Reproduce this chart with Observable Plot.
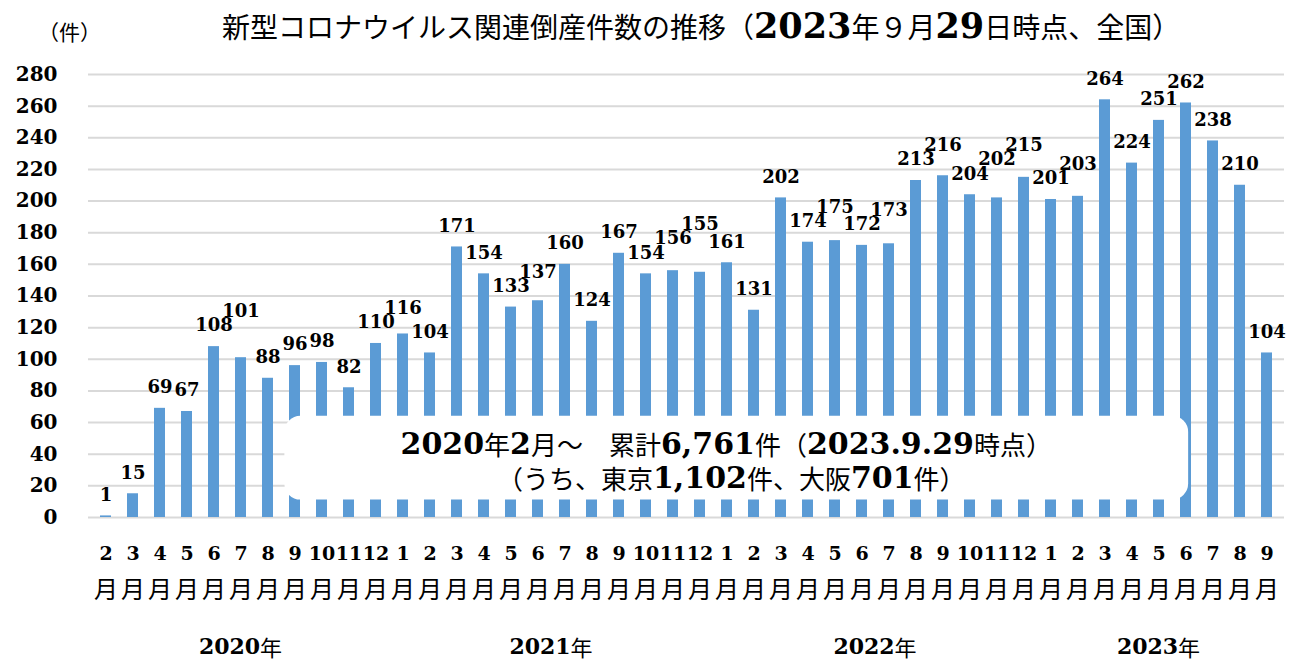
<!DOCTYPE html>
<html><head><meta charset="utf-8">
<script src="https://cdn.jsdelivr.net/npm/d3@7"></script>
<script src="https://cdn.jsdelivr.net/npm/@observablehq/plot@0.6"></script>
<style>
body{margin:0;background:#fff;width:1290px;height:663px;overflow:hidden;position:relative;font-family:"Noto Sans CJK JP",sans-serif;color:#000;}
#title{position:absolute;left:222px;top:5px;font-size:28px;line-height:42px;white-space:nowrap;}
#title .num{font-size:35px;}
#unit{position:absolute;left:38px;top:16px;font-size:21px;line-height:30px;white-space:nowrap;}
.num{font-family:"DejaVu Serif",serif;font-weight:bold;}
#chart{position:absolute;left:0;top:50px;}
</style></head><body>
<div id="unit">（件）</div>
<div id="title"></div>
<div id="chart"></div>
<script>
// ---- data ----
const years = [2020, 2021, 2022, 2023];
const months2020 = [2, 3, 4, 5, 6, 7, 8, 9, 10, 11, 12];
const months2021 = [1, 2, 3, 4, 5, 6, 7, 8, 9, 10, 11, 12];
const months2022 = [1, 2, 3, 4, 5, 6, 7, 8, 9, 10, 11, 12];
const months2023 = [1, 2, 3, 4, 5, 6, 7, 8, 9];
const counts2020 = [1, 15, 69, 67, 108, 101, 88, 96, 98, 82, 110];
const counts2021 = [116, 104, 171, 154, 133, 137, 160, 124, 167, 154, 156, 155];
const counts2022 = [161, 131, 202, 174, 175, 172, 173, 213, 216, 204, 202, 215];
const counts2023 = [201, 203, 264, 224, 251, 262, 238, 210, 104];
const yTicks = [0, 20, 40, 60, 80, 100, 120, 140, 160, 180, 200, 220, 240, 260, 280];
const monthSuffix = "月";
const yearSuffix = "年";
const titleText = "新型コロナウイルス関連倒産件数の推移（2023年９月29日時点、全国）";
const boxLine1 = "2020年2月～　累計6,761件（2023.9.29時点）";
const boxLine2 = "（うち、東京1,102件、大阪701件）";

// ---- build table ----
const monthsList = [months2020, months2021, months2022, months2023];
const countsList = [counts2020, counts2021, counts2022, counts2023];
const data = [];
years.forEach((yr, i) => monthsList[i].forEach((m, j) => data.push({
  key: `${yr}-${String(m).padStart(2, "0")}`, year: yr, month: m, value: countsList[i][j]
})));

// stagger value labels so neighbouring labels do not collide (computed, in value units)
const minGap = 9;
data.forEach((d, i) => {
  d.labelY = d.value;
  if (i > 0) {
    const p = data[i - 1];
    const wide = String(d.value).length + String(p.value).length >= 6;
    if (wide && Math.abs(d.labelY - p.labelY) < minGap) d.labelY = p.labelY + minGap;
  }
});

const SERIF = "DejaVu Serif";
const SANS = "Noto Sans CJK JP";

function runs(str) {
  const out = []; const re = /[0-9][0-9,.]*/g; let last = 0, m;
  while ((m = re.exec(str))) {
    if (m.index > last) out.push({t: str.slice(last, m.index), num: false});
    out.push({t: m[0], num: true}); last = m.index + m[0].length;
  }
  if (last < str.length) out.push({t: str.slice(last), num: false});
  return out;
}

document.getElementById("title").innerHTML = runs(titleText)
  .map(r => r.num ? `<span class="num">${r.t}</span>` : `<span>${r.t}</span>`).join("");

const plot = Plot.plot({
  width: 1290, height: 613,
  marginTop: 24, marginBottom: 146, marginLeft: 88, marginRight: 6,
  style: {fontFamily: SERIF, fontWeight: "bold", fontSize: "20px", color: "#000", background: "#fff", overflow: "visible"},
  x: {type: "band", domain: data.map(d => d.key), paddingInner: 0.6, paddingOuter: 0.3, axis: null},
  y: {domain: [0, 280], ticks: yTicks.length - 1, tickSize: 0, tickPadding: 31, label: null},
  marks: [
    Plot.ruleY(yTicks, {stroke: "#d9d9d9", strokeWidth: 2}),
    Plot.barY(data, {x: "key", y: "value", fill: "#5b9bd5"}),
    Plot.text(data, {x: "key", y: "labelY", text: d => String(d.value), dy: -21, fontSize: 18, fontWeight: "bold", fontFamily: SERIF, fill: "#000"}),
    Plot.text(data, {x: "key", text: d => String(d.month), frameAnchor: "bottom", dy: 42, fontSize: 19, fontWeight: "bold", fontFamily: SERIF, fill: "#000"}),
    Plot.text(data, {x: "key", text: () => monthSuffix, frameAnchor: "bottom", dy: 80, fontSize: 24, fontWeight: "normal", fontFamily: SANS, fill: "#000"})
  ]
});
document.getElementById("chart").appendChild(plot);

// ---- annotations positioned through the plot's own scales ----
const xs = plot.scale("x"), ys = plot.scale("y");
const bw = xs.bandwidth;
const svg = d3.select(plot);

function mixedText(g, str, x, y, numSize, sansSize) {
  const t = g.append("text").attr("x", x).attr("y", y)
    .attr("text-anchor", "middle").attr("dominant-baseline", "central").attr("fill", "#000");
  runs(str).forEach(r => {
    t.append("tspan").text(r.t)
      .attr("font-family", r.num ? SERIF : SANS)
      .attr("font-weight", r.num ? "bold" : "normal")
      .attr("font-size", r.num ? numSize : sansSize);
  });
  return t;
}

// year labels centred under each year's bars
const yearG = svg.append("g");
years.forEach(yr => {
  const xsYear = data.filter(d => d.year === yr).map(d => xs.apply(d.key) + bw / 2);
  mixedText(yearG, yr + yearSuffix, d3.mean(xsYear), ys.apply(0) + 129, 22, 22);
});

// summary box
const boxG = svg.append("g");
const bx1 = xs.apply("2020-09") - 0.42 * bw;
const bx2 = xs.apply("2023-06") + 0.74 * bw;
const by1 = ys.apply(64), by2 = ys.apply(11);
boxG.append("rect").attr("x", bx1).attr("y", by1).attr("width", bx2 - bx1).attr("height", by2 - by1)
  .attr("rx", 16).attr("fill", "#fff");
mixedText(boxG, boxLine1, (bx1 + bx2) / 2 - 10, ys.apply(47), 30, 26);
mixedText(boxG, boxLine2, (bx1 + bx2) / 2 - 5, ys.apply(25), 30, 26);
</script>
</body></html>
